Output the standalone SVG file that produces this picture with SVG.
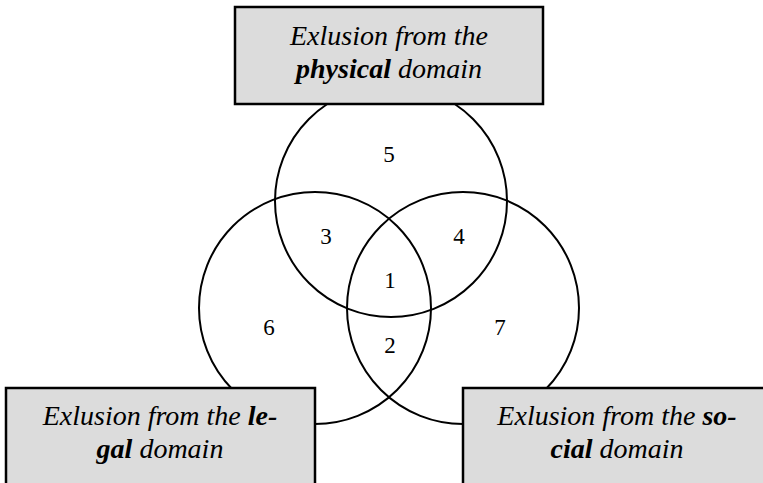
<svg xmlns="http://www.w3.org/2000/svg" width="763" height="483" viewBox="0 0 763 483">
  <style>
    .ring { fill: none; stroke: #000; stroke-width: 2; }
    .box { fill: #dcdcdc; stroke: #000; stroke-width: 2.5; }
    .cap { font-family: "Liberation Serif", "Times New Roman", serif; font-size: 28px; font-style: italic; text-anchor: middle; fill: #000; }
    .cap .b { font-weight: bold; }
    .num { font-family: "Liberation Serif", "Times New Roman", serif; font-size: 23px; text-anchor: middle; fill: #000; }
  </style>
  <rect width="763" height="483" fill="#fff"/>

  <!-- three overlapping domains -->
  <g id="circle-physical"><circle class="ring" cx="391" cy="201" r="116"/></g>
  <g id="circle-legal"><circle class="ring" cx="315" cy="308" r="116"/></g>
  <g id="circle-social"><circle class="ring" cx="463" cy="308" r="116"/></g>

  <!-- region numbers -->
  <g id="regions">
    <text class="num" x="389" y="162">5</text>
    <text class="num" x="326" y="244">3</text>
    <text class="num" x="459" y="244">4</text>
    <text class="num" x="390" y="288">1</text>
    <text class="num" x="269" y="335">6</text>
    <text class="num" x="500" y="335">7</text>
    <text class="num" x="390" y="353">2</text>
  </g>

  <!-- domain labels, drawn over the circles -->
  <g id="label-physical">
    <rect class="box" x="235" y="7" width="308" height="97"/>
    <text class="cap" x="389" y="45">Exlusion from the</text>
    <text class="cap" x="389" y="78"><tspan class="b">physical</tspan> domain</text>
  </g>
  <g id="label-legal">
    <rect class="box" x="6" y="388" width="309" height="110"/>
    <text class="cap" x="160" y="425">Exlusion from the <tspan class="b">le-</tspan></text>
    <text class="cap" x="160" y="458"><tspan class="b">gal</tspan> domain</text>
  </g>
  <g id="label-social">
    <rect class="box" x="463" y="388" width="310" height="110"/>
    <text class="cap" x="617" y="425">Exlusion from the <tspan class="b">so-</tspan></text>
    <text class="cap" x="617" y="458"><tspan class="b">cial</tspan> domain</text>
  </g>
</svg>
